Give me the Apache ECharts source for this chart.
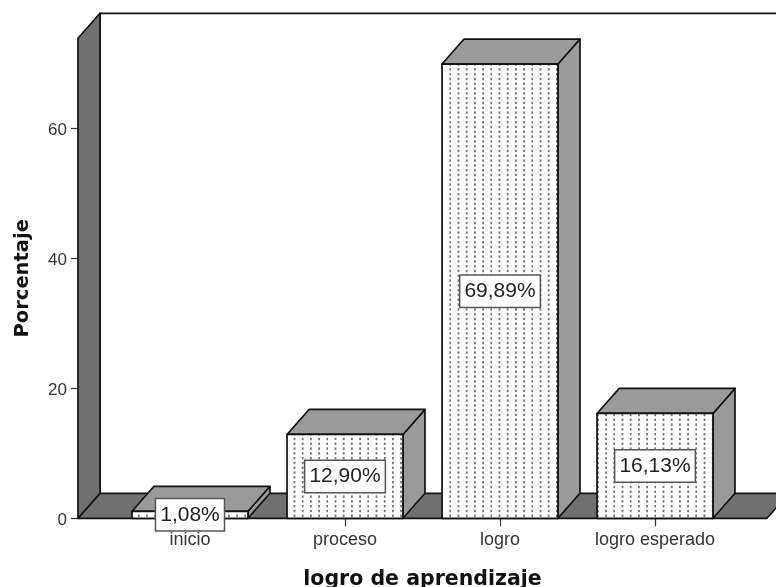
<!DOCTYPE html>
<html>
<head>
<meta charset="utf-8">
<style>html,body{margin:0;padding:0;background:#fff}#c{width:776px;height:587px}</style>
<script src="https://cdn.jsdelivr.net/npm/echarts@6/dist/echarts.min.js"></script>
</head>
<body>
<div id="c"></div>
<script>
var categories = ['inicio', 'proceso', 'logro', 'logro esperado'];
var percentages = [1.08, 12.90, 69.89, 16.13];
var yTicks = [0, 20, 40, 60];
var yMax = 73.85;

var depthX = 22, depthY = -25, wallPad = 34.5, barRatio = 0.748;
var line = { stroke: '#111', lineWidth: 1.7, lineJoin: 'round' };

function makeDots() {
  var cv = document.createElement('canvas');
  cv.width = 41; cv.height = 24;
  var g = cv.getContext('2d');
  g.fillStyle = '#fff'; g.fillRect(0, 0, 41, 24);
  g.fillStyle = '#777';
  [0, 8.2, 16.4, 24.6, 32.8].forEach(function (x) {
    [0, 4.8, 9.6, 14.4, 19.2].forEach(function (y) {
      g.fillRect(x + 6.6, y + 1, 1.8, 2.4);
    });
  });
  return cv;
}
var dots = makeDots();

function poly(points, fill) {
  return { type: 'polygon', shape: { points: points },
    style: Object.assign({ fill: fill }, line) };
}

function renderWalls(params, api) {
  var r = params.coordSys;
  var l = r.x - wallPad, rr = r.x + r.width + wallPad, t = r.y, b = r.y + r.height;
  return { type: 'group', children: [
    { type: 'polyline', shape: { points: [[l + depthX, b + depthY], [l + depthX, t + depthY], [rr + depthX, t + depthY]] },
      style: { fill: null, stroke: '#111', lineWidth: 1.7 } },
    poly([[l, b], [l + depthX, b + depthY], [rr + depthX, b + depthY], [rr, b]], '#707070'),
    poly([[l, t], [l + depthX, t + depthY], [l + depthX, b + depthY], [l, b]], '#707070')
  ]};
}

function renderBar(params, api) {
  var top = api.coord([api.value(0), api.value(1)]);
  var base = api.coord([api.value(0), 0]);
  var w = api.size([1, 0])[0] * barRatio;
  var x0 = top[0] - w / 2, x1 = top[0] + w / 2, yT = top[1], yB = base[1];
  var txt = api.value(1).toFixed(2).replace('.', ',') + '%';
  return { type: 'group', children: [
    poly([[x1, yT], [x1 + depthX, yT + depthY], [x1 + depthX, yB + depthY], [x1, yB]], '#9a9a9a'),
    poly([[x0, yT], [x0 + depthX, yT + depthY], [x1 + depthX, yT + depthY], [x1, yT]], '#9a9a9a'),
    { type: 'rect', shape: { x: x0, y: yT, width: w, height: yB - yT },
      style: Object.assign({ fill: { image: dots, repeat: 'repeat' } }, line) },
    { type: 'text', x: top[0], y: (yT + yB) / 2, z2: 100,
      style: { text: txt, x: 0, y: 0, align: 'center', verticalAlign: 'middle',
        font: '21px "Liberation Sans"', fill: '#222',
        backgroundColor: '#fff', borderColor: '#555', borderWidth: 1.5, padding: [5, 4, 5, 4] } }
  ]};
}

var chart = echarts.init(document.getElementById('c'), null, { renderer: 'canvas' });
chart.setOption({
  animation: false,
  backgroundColor: '#fff',
  grid: { left: 112.5, right: 43.5, top: 38.3, bottom: 68.7, outerBoundsMode: 'none' },
  xAxis: {
    type: 'category', data: categories,
    name: 'logro de aprendizaje', nameLocation: 'middle', nameGap: 51,
    nameTextStyle: { fontFamily: 'DejaVu Sans', fontWeight: 'bold', fontSize: 20.5, color: '#111' },
    axisLine: { show: false },
    axisTick: { show: true, alignWithLabel: true, interval: 0, length: 8, lineStyle: { color: '#333', width: 1.2 } },
    axisLabel: { interval: 0, hideOverlap: false, fontFamily: 'Liberation Sans', fontSize: 18, color: '#333', margin: 13 }
  },
  yAxis: {
    type: 'value', min: 0, max: yMax, offset: 34.5,
    name: 'Porcentaje', nameLocation: 'middle', nameGap: 45,
    nameTextStyle: { fontFamily: 'DejaVu Sans', fontWeight: 'bold', fontSize: 19.5, color: '#111' },
    splitLine: { show: false },
    axisLine: { show: false },
    axisTick: { show: true, length: 7, customValues: yTicks, lineStyle: { color: '#333', width: 1.2 } },
    axisLabel: { customValues: yTicks, fontFamily: 'Liberation Sans', fontSize: 17, color: '#333', margin: 11,
      formatter: '{n|{value}}',
      rich: { n: { fontFamily: 'Liberation Sans', fontSize: 17, color: '#333', padding: [4, 0, 0, 0] } } }
  },
  series: [
    { type: 'custom', name: 'walls', z: 1, silent: true, renderItem: renderWalls, data: [[0, 0]], clip: false },
    { type: 'custom', name: 'Porcentaje', z: 2, renderItem: renderBar, clip: false,
      encode: { x: 0, y: 1 },
      data: categories.map(function (c, i) { return [i, percentages[i]]; }) }
  ]
});
</script>
</body>
</html>
